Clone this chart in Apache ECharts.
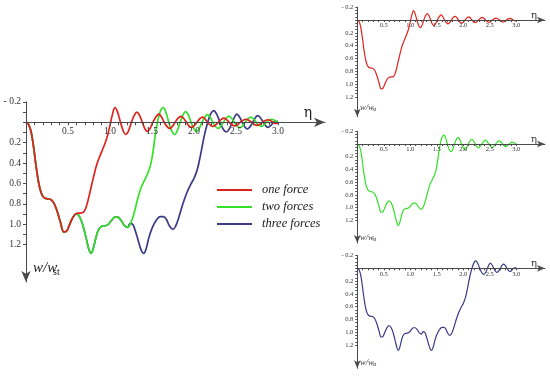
<!DOCTYPE html>
<html><head><meta charset="utf-8">
<script src="https://cdn.jsdelivr.net/npm/echarts@6/dist/echarts.min.js"></script>
<style>html,body{margin:0;padding:0;background:#fff}#c{width:550px;height:377px}</style>
</head><body><div id="c"></div>
<script>
// ---- data ----
const seriesNames = ['one force', 'two forces', 'three forces'];
const xTickLabels = [0.5, 1.0, 1.5, 2.0, 2.5, 3.0];
const yTickLabels = [-0.2, 0.2, 0.4, 0.6, 0.8, 1.0, 1.2];

const etaRed = [0, 0.03, 0.06, 0.09, 0.12, 0.15, 0.18, 0.21, 0.25, 0.29, 0.33, 0.37, 0.41, 0.45, 0.48, 0.52, 0.56, 0.60, 0.64, 0.68, 0.72, 0.76, 0.80, 0.84, 0.88, 0.92, 0.96, 1.00, 1.03, 1.06, 1.09, 1.125, 1.16, 1.19, 1.22, 1.255, 1.29, 1.32, 1.35, 1.385, 1.415, 1.445, 1.475, 1.51, 1.55, 1.58, 1.61, 1.645, 1.68, 1.71, 1.74, 1.775, 1.81, 1.845, 1.875, 1.91, 1.94, 1.97, 2.00, 2.035, 2.07, 2.10, 2.13, 2.16, 2.195, 2.225, 2.255, 2.29, 2.325, 2.355, 2.385, 2.42, 2.455, 2.485, 2.515, 2.55, 2.585, 2.62, 2.65, 2.685, 2.72, 2.75, 2.78, 2.815, 2.85, 2.88, 2.91, 2.94, 2.97, 3.0];
const wRed = [0, 0.02, 0.09, 0.24, 0.43, 0.59, 0.69, 0.735, 0.75, 0.755, 0.79, 0.87, 0.98, 1.075, 1.07, 1.0, 0.93, 0.895, 0.89, 0.885, 0.82, 0.69, 0.55, 0.42, 0.33, 0.25, 0.16, 0.03, -0.08, -0.145, -0.10, 0.0, 0.09, 0.12, 0.085, 0.0, -0.07, -0.10, -0.07, 0.0, 0.063, 0.09, 0.063, 0.0, -0.056, -0.08, -0.056, 0.0, 0.042, 0.06, 0.042, 0.0, -0.04, -0.058, -0.04, 0.0, 0.035, 0.05, 0.035, 0.0, -0.035, -0.05, -0.035, 0.0, 0.028, 0.04, 0.028, 0.0, -0.028, -0.04, -0.028, 0.0, 0.025, 0.035, 0.025, 0.0, -0.021, -0.03, -0.021, 0.0, 0.021, 0.03, 0.021, 0.0, -0.018, -0.025, -0.018, 0.0, 0.012, 0.01];

const etaGreen = [0, 0.03, 0.06, 0.09, 0.12, 0.15, 0.18, 0.21, 0.25, 0.29, 0.33, 0.37, 0.41, 0.45, 0.48, 0.52, 0.56, 0.60, 0.64, 0.68, 0.72, 0.75, 0.775, 0.80, 0.83, 0.86, 0.90, 0.94, 0.98, 1.02, 1.06, 1.09, 1.13, 1.17, 1.21, 1.25, 1.29, 1.33, 1.37, 1.41, 1.45, 1.48, 1.51, 1.54, 1.57, 1.60, 1.635, 1.665, 1.70, 1.735, 1.77, 1.80, 1.835, 1.87, 1.90, 1.93, 1.965, 2.00, 2.03, 2.06, 2.095, 2.13, 2.16, 2.19, 2.225, 2.255, 2.285, 2.315, 2.35, 2.385, 2.415, 2.445, 2.48, 2.515, 2.545, 2.575, 2.61, 2.645, 2.675, 2.705, 2.74, 2.77, 2.80, 2.83, 2.865, 2.895, 2.925, 2.955, 3.0];
const wGreen = [0, 0.02, 0.09, 0.24, 0.43, 0.59, 0.69, 0.735, 0.75, 0.755, 0.79, 0.87, 0.98, 1.075, 1.07, 1.0, 0.93, 0.895, 0.93, 1.02, 1.15, 1.25, 1.285, 1.24, 1.14, 1.06, 1.02, 1.015, 1.0, 0.96, 0.93, 0.93, 0.96, 1.01, 1.03, 0.98, 0.88, 0.75, 0.64, 0.57, 0.50, 0.43, 0.30, 0.12, -0.02, -0.11, -0.145, -0.10, 0.0, 0.085, 0.12, 0.085, 0.0, -0.075, -0.105, -0.075, 0.0, 0.063, 0.09, 0.063, 0.0, -0.053, -0.075, -0.053, 0.0, 0.042, 0.06, 0.042, 0.0, -0.042, -0.06, -0.042, 0.0, 0.038, 0.055, 0.038, 0.0, -0.035, -0.05, -0.035, 0.0, 0.028, 0.04, 0.028, 0.0, -0.021, -0.03, -0.021, 0.0];

const etaBlue = [0, 0.03, 0.06, 0.09, 0.12, 0.15, 0.18, 0.21, 0.25, 0.29, 0.33, 0.37, 0.41, 0.45, 0.48, 0.52, 0.56, 0.60, 0.64, 0.68, 0.72, 0.75, 0.775, 0.80, 0.83, 0.86, 0.90, 0.94, 0.98, 1.02, 1.06, 1.09, 1.13, 1.17, 1.21, 1.24, 1.27, 1.30, 1.34, 1.37, 1.40, 1.43, 1.46, 1.50, 1.55, 1.60, 1.635, 1.67, 1.71, 1.75, 1.78, 1.82, 1.86, 1.91, 1.96, 2.00, 2.04, 2.08, 2.12, 2.16, 2.20, 2.235, 2.27, 2.31, 2.35, 2.385, 2.42, 2.455, 2.485, 2.51, 2.54, 2.575, 2.605, 2.635, 2.665, 2.70, 2.73, 2.76, 2.79, 2.825, 2.855, 2.88, 2.91, 2.95, 3.0];
const wBlue = [0, 0.02, 0.09, 0.24, 0.43, 0.59, 0.69, 0.735, 0.75, 0.755, 0.79, 0.87, 0.98, 1.075, 1.07, 1.0, 0.93, 0.895, 0.93, 1.02, 1.15, 1.25, 1.285, 1.24, 1.14, 1.06, 1.02, 1.015, 1.0, 0.96, 0.93, 0.93, 0.96, 1.01, 1.03, 0.99, 1.0, 1.06, 1.17, 1.25, 1.285, 1.24, 1.14, 1.04, 0.96, 0.925, 0.925, 0.95, 1.02, 1.05, 1.02, 0.93, 0.82, 0.70, 0.61, 0.55, 0.46, 0.31, 0.14, 0.01, -0.085, -0.115, -0.08, 0.0, 0.07, 0.095, 0.065, 0.0, -0.055, -0.08, -0.055, 0.0, 0.045, 0.065, 0.045, 0.0, -0.045, -0.065, -0.045, 0.0, 0.035, 0.05, 0.035, 0.0, -0.01];

const colors = ['#e0221c', '#35e02a', '#3b3a86'];

// ---- layout ----
const plots = [
  {left: 26, xs: 84, y0: 122.3, ys: 102, xmax: 3.56, ymax: 1.565, main: true, only: null},
  {left: 357.3, xs: 53, y0: 20, ys: 64, xmax: 3.54, ymax: 1.51, only: 0},
  {left: 357.3, xs: 53, y0: 144, ys: 63.5, xmax: 3.54, ymax: 1.56, only: 1},
  {left: 357.3, xs: 53, y0: 268.3, ys: 63.9, xmax: 3.54, ymax: 1.565, only: 2}
];

function steps(a, b, s) {
  const out = [];
  const n = Math.round((b - a) / s);
  for (let i = 0; i <= n; i++) out.push(Math.round((a + i * s) * 1000) / 1000);
  return out;
}
const zip = (xs, ys) => xs.map((x, i) => [x, ys[i]]);
const curves = [zip(etaRed, wRed), zip(etaGreen, wGreen), zip(etaBlue, wBlue)];
const fmtY = v => v < 0 ? '- ' + (-v).toFixed(1) : v.toFixed(1);

const grid = [], xAxis = [], yAxis = [], series = [], graphic = [];
const axisColor = '#4a4a4a';
const serif = 'Liberation Serif';

plots.forEach((p, i) => {
  const m = !!p.main;
  const top = p.y0 - 0.2 * p.ys;
  const gData = grid.length;
  // data grid: carries the curves and the visible vertical axis
  grid.push({left: p.left, top: top, width: p.xmax * p.xs, height: (p.ymax + 0.2) * p.ys});
  xAxis.push({type: 'value', gridIndex: gData, min: 0, max: p.xmax, show: false});
  yAxis.push({
    type: 'value', gridIndex: gData, min: -0.2, max: p.ymax, inverse: true, z: 3,
    axisLine: {onZero: false, symbol: ['arrow', 'none'], symbolSize: m ? [7, 11] : [5, 8], lineStyle: {color: axisColor, width: 1}},
    axisTick: {show: true, customValues: steps(-0.2, 1.2, m ? 0.1 : 0.05), length: m ? 3 : 2, lineStyle: {color: axisColor, width: 1}},
    axisLabel: {customValues: yTickLabels, formatter: fmtY, fontFamily: serif, fontSize: m ? 9.5 : 6.5, color: '#333', margin: m ? 5 : 4},
    splitLine: {show: false}
  });
  const idx = p.only === null ? [2, 1, 0] : [p.only];
  idx.forEach(k => {
    series.push({
      name: seriesNames[k], type: 'line', xAxisIndex: gData, yAxisIndex: gData,
      data: curves[k], showSymbol: false, smooth: 0.4,
      lineStyle: {color: colors[k], width: m ? 1.7 : 1.2}, itemStyle: {color: colors[k]},
      z: 2, silent: true
    });
  });
  // axis grid: its bottom edge is the w = 0 line, carrying the horizontal eta axis
  const gAxis = grid.length;
  grid.push({left: p.left, top: top, width: p.xmax * p.xs, height: 0.2 * p.ys});
  xAxis.push({
    type: 'value', gridIndex: gAxis, min: 0, max: p.xmax, position: 'bottom', z: 3,
    axisLine: {onZero: false, symbol: ['none', 'arrow'], symbolSize: m ? [7, 11] : [5, 8], lineStyle: {color: axisColor, width: 1}},
    axisTick: {show: true, customValues: steps(0, 3.0, 0.1), length: m ? 3 : 2, lineStyle: {color: axisColor, width: 1}},
    axisLabel: {customValues: xTickLabels, formatter: v => v.toFixed(1), fontFamily: serif, fontSize: m ? 9.5 : 6.5, color: '#333', margin: m ? 4 : 2},
    splitLine: {show: false}
  });
  yAxis.push({type: 'value', gridIndex: gAxis, min: -0.2, max: 0, inverse: true, show: false});
});

// axis titles
graphic.push({type: 'text', x: 308, y: 113, style: {text: 'η', font: '14px "DejaVu Serif"', fill: '#222', align: 'center', verticalAlign: 'middle'}});
graphic.push({type: 'text', x: 33, y: 268, style: {text: 'w/w', font: 'italic 15px "' + serif + '"', fill: '#222', verticalAlign: 'middle'}});
graphic.push({type: 'text', x: 53, y: 272, style: {text: 'st', font: '10px "' + serif + '"', fill: '#222', verticalAlign: 'middle'}});
[[15, 107.3], [139.3, 237.3], [263.3, 362.3]].forEach(([ey, wy]) => {
  graphic.push({type: 'text', x: 534, y: ey, style: {text: 'η', font: '10px "DejaVu Serif"', fill: '#333', align: 'center', verticalAlign: 'middle'}});
  graphic.push({type: 'text', x: 360, y: wy, style: {text: 'w/w', font: 'italic 8.5px "' + serif + '"', fill: '#444', verticalAlign: 'middle'}});
  graphic.push({type: 'text', x: 372.5, y: wy + 2, style: {text: 'st', font: '6px "' + serif + '"', fill: '#444', verticalAlign: 'middle'}});
});

const chart = echarts.init(document.getElementById('c'), null, {renderer: 'canvas'});
chart.setOption({
  animation: false,
  backgroundColor: '#fff',
  grid, xAxis, yAxis, series, graphic,
  legend: {
    data: seriesNames, orient: 'vertical', left: 217, top: 181.5, padding: 0, itemGap: 0,
    itemWidth: 35, itemHeight: 2, icon: 'rect', selectedMode: false,
    textStyle: {fontFamily: serif, fontStyle: 'italic', fontSize: 12.5, color: '#222', lineHeight: 17, padding: [0, 0, 0, 5]}
  }
});
</script></body></html>
